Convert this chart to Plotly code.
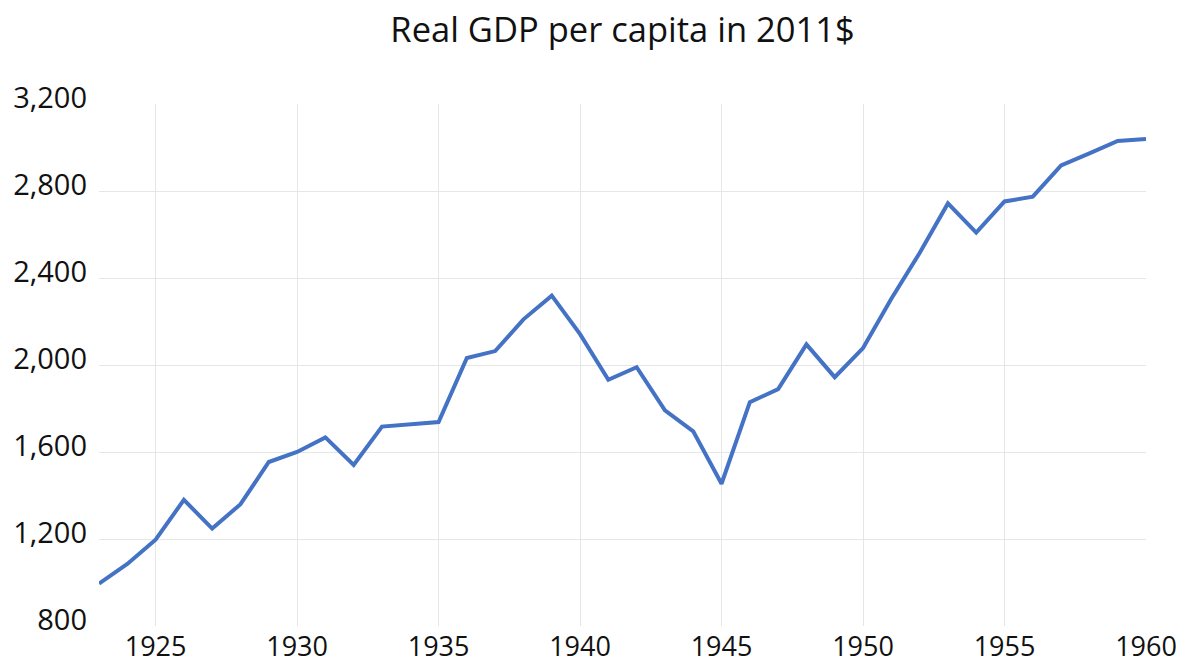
import plotly.graph_objects as go

years = list(range(1923, 1961))
gdp_per_capita = [
    995, 1085, 1197, 1380, 1248, 1360, 1554, 1600, 1667, 1540,
    1717, 1729, 1738, 2032, 2064, 2210, 2319, 2142, 1932, 1990,
    1791, 1695, 1454, 1829, 1889, 2095, 1944, 2078, 2305, 2515,
    2743, 2609, 2752, 2774, 2918, 2973, 3030, 3039,
]
x_ticks = [1925, 1930, 1935, 1940, 1945, 1950, 1955, 1960]
y_ticks = [800, 1200, 1600, 2000, 2400, 2800, 3200]
y_tick_text = ["{:,}".format(v) for v in y_ticks]
title_text = "Real GDP per capita in 2011$"

FONT = "Open Sans"
GRID = "#E6E6E6"

fig = go.Figure()
fig.add_trace(go.Scatter(
    x=years, y=gdp_per_capita, mode="lines",
    line=dict(color="#4472C4", width=4),
    hoverinfo="x+y", showlegend=False,
))

fig.update_layout(
    width=1186, height=666,
    margin=dict(l=99, r=40, t=104, b=40, autoexpand=False),
    paper_bgcolor="white", plot_bgcolor="white",
    font=dict(family=FONT, color="#111111"),
    title=dict(text=title_text, x=0.5, xref="paper", xanchor="center",
               y=1 - 29.5 / 666, yanchor="middle",
               font=dict(family=FONT, size=34.5, color="#111111")),
)
fig.update_xaxes(
    range=[1923, 1960], tickmode="array", tickvals=x_ticks,
    showgrid=True, gridcolor=GRID, gridwidth=1,
    showline=False, zeroline=False, ticks="", automargin=False,
    tickfont=dict(family=FONT, size=27, color="#111111"),
    ticklabelstandoff=2,
)
fig.update_yaxes(
    range=[800, 3200], tickmode="array", tickvals=y_ticks, ticktext=y_tick_text,
    showgrid=True, gridcolor=GRID, gridwidth=1,
    showline=False, zeroline=False, ticks="", automargin=False,
    tickfont=dict(family=FONT, size=29, color="#111111"),
    ticklabelstandoff=11, ticklabelshift=-6,
)

fig.write_html(
    "out.html",
    config={"displayModeBar": False},
    post_script="document.body.style.margin='0';document.body.style.padding='0';",
)
